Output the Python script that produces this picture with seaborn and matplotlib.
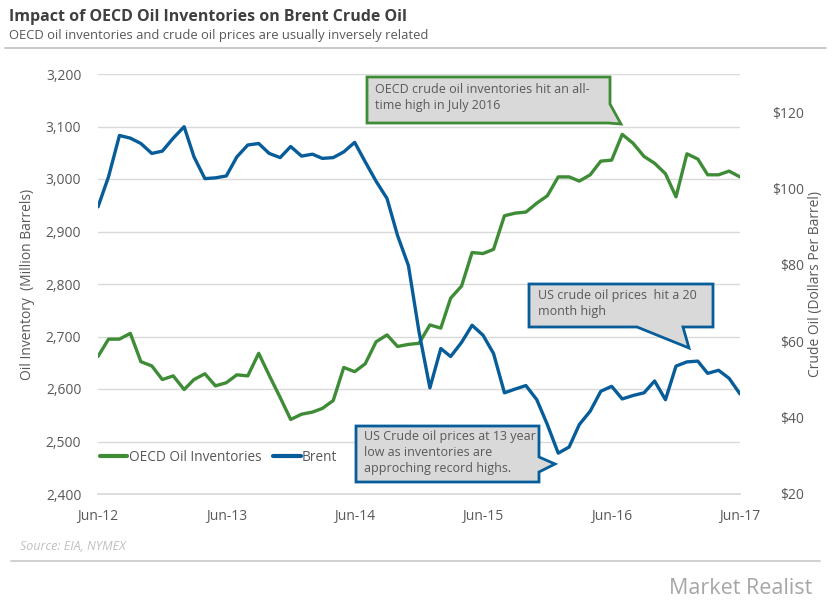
import matplotlib
matplotlib.use("Agg")
import matplotlib.dates as mdates
import matplotlib.pyplot as plt
import matplotlib.ticker as mticker
from matplotlib.lines import Line2D
from matplotlib.patches import Polygon
import numpy as np
import pandas as pd
import seaborn as sns


GREEN = "#3f8c37"
BLUE = "#065d99"
GRID = "#d9d9d9"
TEXT = "#595959"
W, H = 836, 601

months = pd.date_range("2012-06-01", periods=61, freq="MS")

# OECD commercial inventories, million barrels
oecd_inventory = [
  2662, 2695, 2695, 2706, 2652, 2644, 2618, 2625, 2599, 2618,
  2629, 2606, 2612, 2627, 2625, 2668, 2626, 2584, 2542, 2552,
  2556, 2563, 2578, 2641, 2633, 2648, 2690, 2703, 2681, 2685,
  2687, 2722, 2716, 2773, 2796, 2860, 2858, 2866, 2930, 2935,
  2937, 2954, 2968, 3004, 3004, 2996, 3008, 3034, 3036, 3085,
  3068, 3043, 3030, 3010, 2966, 3048, 3038, 3008, 3008, 3015,
  3004,
]

# Brent, dollars per barrel
brent_price = [
  95.2, 103.1, 113.9, 113.2, 111.8, 109.2, 109.8, 113.2, 116.2, 108.3,
  102.6, 102.8, 103.3, 108.3, 111.4, 111.8, 109.2, 108.1, 111.0, 108.5,
  109.0, 107.9, 108.1, 109.6, 112.1, 107.0, 101.9, 97.4, 87.7, 79.8,
  62.5, 47.8, 58.1, 56.0, 59.7, 64.2, 61.6, 56.8, 46.5, 47.5,
  48.4, 44.7, 38.2, 30.7, 32.3, 38.2, 41.7, 46.9, 48.2, 44.9,
  45.8, 46.5, 49.6, 44.7, 53.5, 54.6, 54.8, 51.6, 52.4, 50.3,
  46.2,
]

inv_ticks = [2400, 2500, 2600, 2700, 2800, 2900, 3000, 3100, 3200]
price_ticks = [20, 40, 60, 80, 100, 120]


def px(x, y):
  return (x / W, 1 - y / H)


def callout(fig, pts, edge, lines, tx, ty):
  poly = Polygon([px(x, y) for x, y in pts], closed=True, transform=fig.transFigure,
                 facecolor="#d9d9d9", edgecolor=edge, linewidth=2, zorder=5)
  fig.patches.append(poly)
  fig.text(*px(tx, ty), lines, fontsize=9, color=TEXT, va="top", ha="left",
           linespacing=1.3, zorder=6)


def main() -> None:
  sns.set_theme(style="white")
  plt.rcParams["font.family"] = ["Open Sans", "DejaVu Sans"]

  df = pd.DataFrame({"month": months, "inventory": oecd_inventory, "brent": brent_price})

  fig = plt.figure(figsize=(W / 100, H / 100), dpi=100)
  ax = fig.add_axes([98 / W, 1 - 494 / H, 642 / W, 420 / H])
  ax2 = ax.twinx()

  sns.lineplot(data=df, x="month", y="inventory", color=GREEN, linewidth=2.4, ax=ax)
  sns.lineplot(data=df, x="month", y="brent", color=BLUE, linewidth=2.4, ax=ax2)

  ax.set_ylim(2400, 3200)
  ax.set_yticks(inv_ticks)
  ax.yaxis.set_major_formatter(mticker.FuncFormatter(lambda v, p: f"{v:,.0f}"))
  ax2.set_ylim(20, 130)
  ax2.set_yticks(price_ticks)
  ax2.yaxis.set_major_formatter(mticker.FuncFormatter(lambda v, p: f"${v:.0f}"))

  ax.set_xlim(months[0], months[-1])
  ax.xaxis.set_major_locator(mdates.MonthLocator(bymonth=6))
  ax.xaxis.set_major_formatter(mdates.DateFormatter("%b-%y"))

  ax.grid(axis="y", color=GRID, linewidth=1)
  ax.set_axisbelow(True)
  for a in (ax, ax2):
    for s in a.spines.values():
      s.set_visible(False)
  ax.spines["bottom"].set_visible(True)
  ax.spines["bottom"].set_color(GRID)

  ax.tick_params(axis="x", colors=GRID, length=5, width=1, labelcolor=TEXT, labelsize=10, pad=6)
  ax.tick_params(axis="y", length=0, labelcolor=TEXT, labelsize=10, pad=12)
  ax2.tick_params(axis="y", length=0, labelcolor=TEXT, labelsize=10, pad=46)
  for lab in ax2.get_yticklabels():
    lab.set_horizontalalignment("right")

  ax.set_xlabel("")
  ax.set_ylabel("Oil Inventory  (Million Barrels)", color=TEXT, fontsize=10, labelpad=8)
  ax2.set_ylabel("Crude Oil (Dollars Per Barrel)", color=TEXT, fontsize=10, labelpad=3)

  handles = [Line2D([], [], color=GREEN, linewidth=3), Line2D([], [], color=BLUE, linewidth=3)]
  ax.legend(handles, ["OECD Oil Inventories", "Brent"], loc="center left",
            bbox_to_anchor=(-0.016, 0.088), ncol=2, frameon=False, fontsize=9.8,
            handlelength=2.0, handletextpad=0.1, columnspacing=0.9,
            labelcolor=TEXT)

  callout(fig, [(367, 77), (610, 77), (610, 104), (621, 124), (608, 123), (367, 123)],
          GREEN, "OECD crude oil inventories hit an all-\ntime high in July 2016", 375, 83)
  callout(fig, [(529, 284), (713, 284), (713, 327), (683, 327), (689, 348), (637, 327), (529, 327)],
          BLUE, "US crude oil prices  hit a 20\nmonth high", 538, 289)
  callout(fig, [(356, 426), (539, 426), (539, 457), (555, 464), (539, 472), (539, 482), (356, 482)],
          BLUE, "US Crude oil prices at 13 year\nlow as inventories are\napproching record highs.",
          364, 430)

  fig.text(*px(9, 17), "Impact of OECD Oil Inventories on Brent Crude Oil", fontsize=11.5,
           fontweight="bold", color="#404040", va="center", ha="left")
  fig.text(*px(9, 35), "OECD oil inventories and crude oil prices are usually inversely related",
           fontsize=9.4, color=TEXT, va="center", ha="left")
  fig.add_artist(Line2D([5 / W, 826 / W], [1 - 48 / H, 1 - 48 / H], color="#bfbfbf", linewidth=1.2))

  fig.text(*px(20, 546), "Source: EIA, NYMEX", fontsize=9, style="italic", color="#c0c0c0",
           va="center", ha="left")
  fig.add_artist(Line2D([11 / W, 820 / W], [1 - 561 / H, 1 - 561 / H], color="#c8c8c8", linewidth=1.2))
  fig.text(*px(812, 588), "Market Realist", fontsize=15.5, color="#a6a6a6", va="center", ha="right")

  fig.savefig("out.png", dpi=100)
  plt.close(fig)


if __name__ == "__main__":
  main()
